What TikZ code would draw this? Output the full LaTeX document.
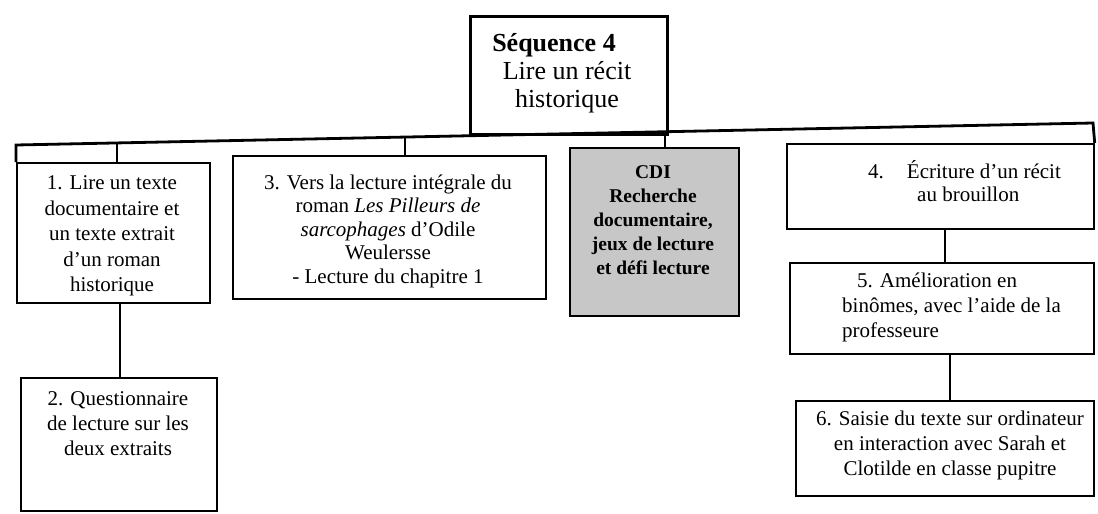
\documentclass[tikz,border=0pt]{standalone}
\usepackage{fontspec}
\setmainfont{Liberation Serif}
\usetikzlibrary{calc}
\begin{document}
\begin{tikzpicture}[x=1pt,y=-1pt,
  box/.style={draw=black, line width=1.7pt, inner sep=0pt, anchor=north west},
  headbox/.style={box, line width=3pt},
  cdibox/.style={box, fill=black!22},
  conn/.style={draw=black, line width=2.2pt},
  bus/.style={draw=black, line width=2.8pt},
  txt/.style={inner sep=0pt, align=center, font=\fontsize{21}{25}\selectfont},
  txtl/.style={txt, align=left, anchor=west},
  headtxt/.style={txt, font=\fontsize{26}{28}\selectfont},
  cditxt/.style={txt, font=\bfseries\fontsize{19.5}{24}\selectfont},
]
\useasboundingbox (0,0) rectangle (1098,514);

% frames
\node[headbox, minimum width=197pt, minimum height=118pt] (head) at (469,15) {};
\node[box, minimum width=193pt, minimum height=140pt] (b1) at (16,162) {};
\node[box, minimum width=196pt, minimum height=133pt] (b2) at (20,377) {};
\node[box, minimum width=313pt, minimum height=143pt] (b3) at (232,155) {};
\node[cdibox, minimum width=169pt, minimum height=168pt] (cdi) at (569,147) {};
\node[box, minimum width=307pt, minimum height=85pt] (b4) at (786,143) {};
\node[box, minimum width=304pt, minimum height=91pt] (b5) at (789,262) {};
\node[box, minimum width=298pt, minimum height=95pt] (b6) at (795,400) {};

% texts
\node[headtxt] (headt) at (567,73) {\textbf{Séquence 4}\hspace*{26pt}\\Lire un récit\\historique};
\node[txt, font=\fontsize{21}{25.5}\selectfont] (t1) at (112,236) {1. Lire un texte\\documentaire et\\un texte extrait\\d’un roman\\historique};
\node[txt] (t2) at (118,424) {2. Questionnaire\\de lecture sur les\\deux extraits};
\node[txt, font=\fontsize{21}{23.5}\selectfont] (t3) at (388,231) {3. Vers la lecture intégrale du\\roman \textit{Les Pilleurs de}\\\textit{sarcophages} d’Odile\\Weulersse\\- Lecture du chapitre 1};
\node[cditxt] (tc) at (653,220.5) {CDI\\Recherche\\documentaire,\\jeux de lecture\\et défi lecture};
\node[txtl, font=\fontsize{21}{23}\selectfont] (t4) at (868,181) {4.\hspace{23pt}Écriture d’un récit\\\hspace*{49pt}au brouillon};
\node[txtl] (t5) at (842,307) {\hspace*{15pt}5. Amélioration en\\binômes, avec l’aide de la\\professeure};
\node[txt] (t6) at (950,445) {6. Saisie du texte sur ordinateur\\en interaction avec Sarah et\\Clotilde en classe pupitre};

% bus joining the top-level steps
\coordinate (busL) at (16,145);
\coordinate (busR) at (1093,123);
\draw[bus] (b1.north west) -- (busL) -- (busR) -- (b4.north east);

% junctions on the bus
\coordinate (j1) at (117,143);
\coordinate (j3) at (405,137);
\coordinate (jc) at (665,131.5);
\draw[conn] (j1) -- (j1 |- b1.north);
\draw[conn] (j3) -- (j3 |- b3.north);
\draw[conn] (jc) -- (jc |- cdi.north);

% vertical links between stacked steps
\draw[conn] (b1.south -| 120,0) -- (b2.north -| 120,0);
\draw[conn] (b4.south -| 945,0) -- (b5.north -| 945,0);
\draw[conn] (b5.south -| 950,0) -- (b6.north -| 950,0);
\end{tikzpicture}
\end{document}
